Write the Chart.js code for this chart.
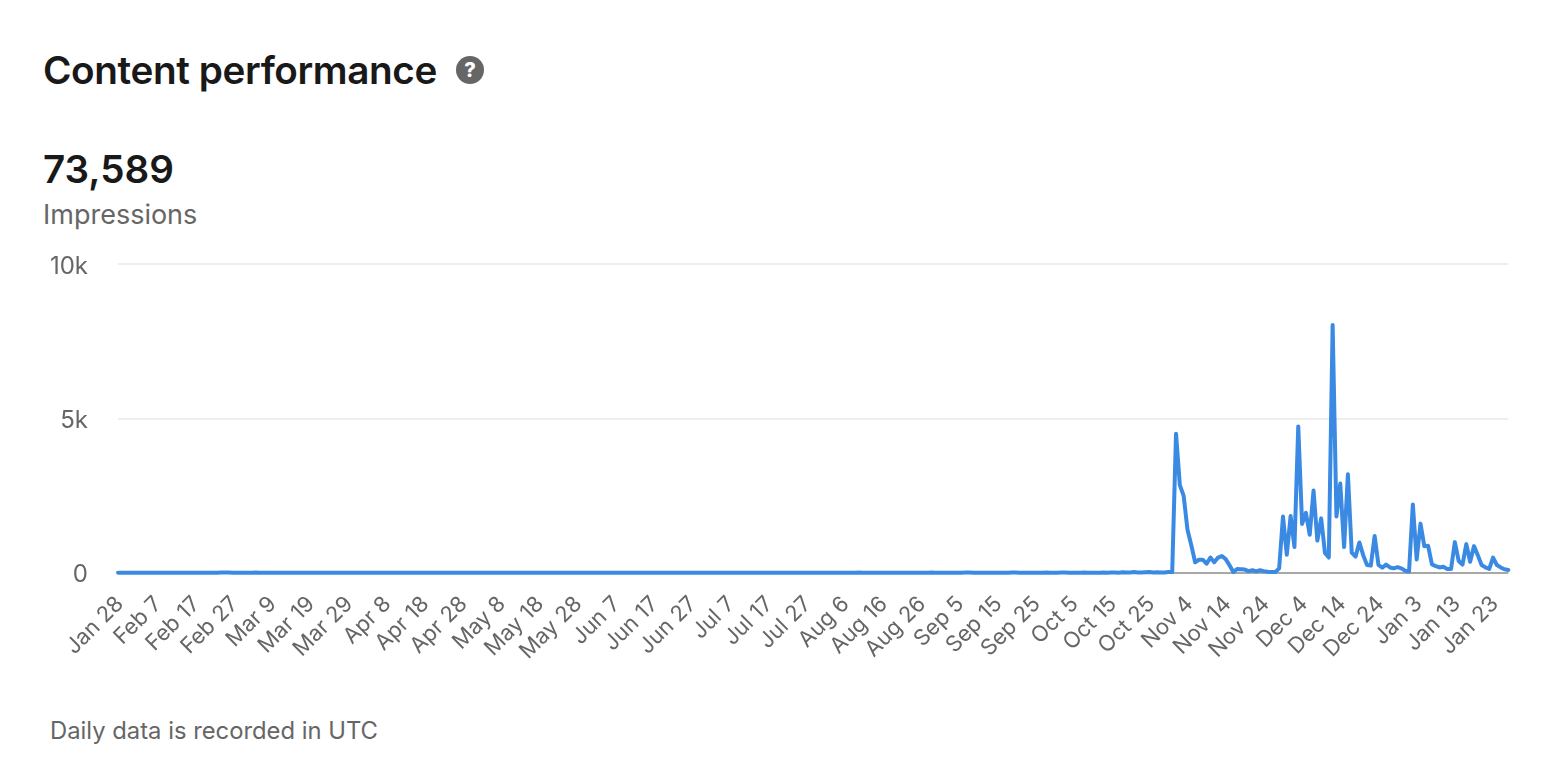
<!DOCTYPE html>
<html>
<head>
<meta charset="utf-8">
<title>Content performance</title>
<script src="https://cdn.jsdelivr.net/npm/chart.js@4/dist/chart.umd.min.js"></script>
<style>
  html, body { margin: 0; padding: 0; background: #fff; overflow: hidden; }
  body { width: 1551px; height: 784px; position: relative; font-family: Inter, sans-serif; }
  .txt { position: absolute; white-space: nowrap; line-height: 1; }
  #title { left: 43px; top: 51px; font-size: 38.7px; font-weight: 600; color: #191919; letter-spacing: -0.4px; }
  #help { left: 456px; top: 56px; width: 28px; height: 28px; border-radius: 50%; background: #666; color: #fff;
    font-size: 20px; font-weight: 800; text-align: center; line-height: 28px; }
  #total { left: 43px; top: 150px; font-size: 38.6px; font-weight: 600; color: #191919; }
  #metric { left: 43px; top: 201px; font-size: 27px; color: #666; }
  #note { left: 50px; top: 719px; font-size: 23.8px; color: #666; }
  #wrap { position: absolute; left: 0; top: 220px; width: 1537px; height: 450px; }
</style>
</head>
<body>
<div class="txt" id="title">Content performance</div>
<div class="txt" id="help">?</div>
<div class="txt" id="total">73,589</div>
<div class="txt" id="metric">Impressions</div>
<div class="txt" id="note">Daily data is recorded in UTC</div>
<div id="wrap"><canvas id="chart"></canvas></div>
<script>
// one label every 10 days
const dateTicks = [
  'Jan 28', 'Feb 7', 'Feb 17', 'Feb 27', 'Mar 9', 'Mar 19', 'Mar 29', 'Apr 8', 'Apr 18', 'Apr 28',
  'May 8', 'May 18', 'May 28', 'Jun 7', 'Jun 17', 'Jun 27', 'Jul 7', 'Jul 17', 'Jul 27', 'Aug 6',
  'Aug 16', 'Aug 26', 'Sep 5', 'Sep 15', 'Sep 25', 'Oct 5', 'Oct 15', 'Oct 25', 'Nov 4', 'Nov 14',
  'Nov 24', 'Dec 4', 'Dec 14', 'Dec 24', 'Jan 3', 'Jan 13', 'Jan 23',
]

const yTicks = [0, 5000, 10000]

// daily impressions: flat until late October
const quietDays = [
  10, 5, 8, 5, 10, 5, 5, 8, 5, 5, 10, 5, 8, 5, 5, 10, 5, 5, 8, 5,
  5, 10, 5, 8, 5, 5, 10, 15, 20, 15, 10, 5, 8, 5, 10, 5, 15, 10, 5, 8,
  5, 5, 10, 5, 8, 5, 5, 10, 5, 5, 8, 5, 10, 5, 5, 8, 5, 5, 10, 5,
  8, 5, 5, 10, 5, 8, 5, 5, 10, 5, 5, 8, 5, 5, 10, 5, 8, 5, 5, 10,
  5, 8, 5, 5, 10, 5, 5, 8, 5, 5, 10, 5, 8, 5, 5, 10, 5, 5, 8, 5,
  5, 10, 5, 8, 5, 5, 10, 5, 5, 8, 5, 10, 5, 5, 8, 5, 5, 10, 5, 8,
  5, 5, 10, 5, 5, 8, 5, 10, 5, 5, 8, 5, 5, 10, 5, 8, 5, 5, 10, 5,
  5, 8, 5, 10, 5, 5, 8, 5, 5, 10, 5, 8, 5, 5, 10, 5, 5, 8, 5, 10,
  5, 5, 8, 5, 5, 10, 5, 8, 5, 5, 10, 5, 5, 8, 5, 10, 5, 5, 8, 5,
  5, 10, 5, 8, 5, 5, 10, 5, 5, 8, 5, 10, 5, 5, 15, 10, 5, 8, 5, 10,
  5, 5, 8, 5, 5, 10, 5, 8, 5, 5, 10, 5, 5, 15, 10, 5, 8, 5, 5, 10,
  5, 5, 20, 15, 10, 8, 5, 10, 5, 5, 8, 5, 10, 5, 15, 20, 10, 5, 8, 5,
  10, 5, 8, 15, 10, 5, 8, 20, 15, 10, 8, 5, 10, 15, 8, 5, 10, 5, 15, 10,
  20, 15, 10, 25, 15, 20, 30, 20, 15, 25, 30, 20, 25, 20, 15, 30,
]

const activeDays = [
  30, 4515, 2850, 2500, 1400, 900, 350, 430, 430, 300, 500, 350, 500, 550, 450, 250, 30, 130, 120, 110,
  60, 90, 50, 90, 60, 40, 30, 30, 150, 1830, 590, 1850, 840, 4750, 1590, 1950, 1240, 2670, 1050, 1770,
  650, 500, 8040, 1830, 2900, 840, 3200, 660, 530, 990, 580, 260, 240, 1200, 260, 170, 270, 180, 150, 190,
  150, 75, 45, 2220, 440, 1600, 870, 880, 280, 225, 180, 200, 130, 130, 1000, 390, 270, 935, 365, 870,
  580, 260, 180, 130, 500, 260, 180, 120, 100,
]

const impressions = quietDays.concat(activeDays)
const dayLabels = impressions.map((_, i) => (i % 10 === 0 ? dateTicks[i / 10] : ''))

function formatK(value) {
  return value === 0 ? '0' : value / 1000 + 'k'
}

new Chart(document.getElementById('chart').getContext('2d'), {
  type: 'line',
  data: {
    labels: dayLabels,
    datasets: [{
      label: 'Impressions',
      data: impressions,
      borderColor: '#3a8ae4',
      borderWidth: 4,
      pointRadius: 0,
      tension: 0,
      clip: false,
      borderJoinStyle: 'round',
      borderCapStyle: 'round',
    }],
  },
  options: {
    responsive: true,
    maintainAspectRatio: false,
    animation: false,
    layout: { padding: { right: 20 } },
    plugins: { legend: { display: false }, tooltip: { enabled: false } },
    scales: {
      x: {
        afterFit: (scale) => { scale.height = 97 },
        offset: false,
        grid: { display: false },
        border: { display: false },
        ticks: {
          autoSkip: false,
          minRotation: 45,
          maxRotation: 45,
          padding: 10,
          labelOffset: 2,
          color: '#666',
          font: { family: 'Inter', size: 22 },
        },
      },
      y: {
        min: 0,
        max: 10000,
        afterFit: (scale) => { scale.width = 118 },
        afterBuildTicks: (scale) => { scale.ticks = yTicks.map((value) => ({ value })) },
        grid: {
          drawTicks: false,
          lineWidth: 2,
          color: (ctx) => (ctx.tick.value === 0 ? '#a8a8a8' : '#eeeeee'),
        },
        border: { display: false },
        ticks: {
          padding: 30,
          labelOffset: 2,
          color: '#666',
          font: { family: 'Inter', size: 24 },
          callback: formatK,
        },
      },
    },
  },
})
</script>
</body>
</html>
